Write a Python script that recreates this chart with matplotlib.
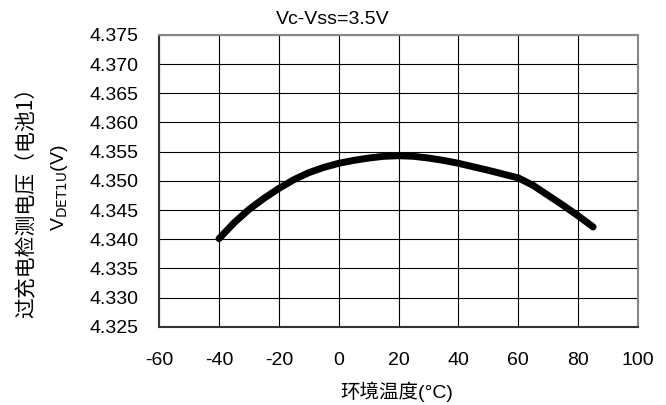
import numpy as np
import matplotlib.pyplot as plt

# readings from the reference curve
temp = [-40, -35, -30, -25, -20, -15, -10, -5, 0, 5, 10, 15, 20, 25, 30, 35,
        40, 50, 60, 65, 70, 75, 80, 85]
vdet = [4.3401, 4.3428, 4.3451, 4.3470, 4.3487, 4.3502, 4.3514, 4.3523,
        4.3530, 4.3535, 4.3539, 4.3542, 4.3543, 4.3542, 4.3539, 4.3535,
        4.3530, 4.3518, 4.3505, 4.3492, 4.3475, 4.3458, 4.3440, 4.3421]

x_ticks = [-60, -40, -20, 0, 20, 40, 60, 80, 100]
y_ticks = [4.325, 4.330, 4.335, 4.340, 4.345, 4.350, 4.355, 4.360, 4.365, 4.370, 4.375]

plt.rcParams['font.family'] = ['Liberation Sans', 'Noto Sans CJK SC', 'DejaVu Sans']
plt.rcParams['axes.unicode_minus'] = False

fig = plt.figure(figsize=(6.66, 4.05), dpi=100)
ax = fig.add_axes([0.239, 0.193, 0.719, 0.721])

ax.plot(temp, vdet, color='black', lw=5, solid_capstyle='round', solid_joinstyle='round', zorder=3)

ax.set_xlim(-60, 100)
ax.set_ylim(4.325, 4.375)
ax.set_xticks(x_ticks)
ax.set_yticks(y_ticks)
ax.set_yticklabels(['%.3f' % v for v in y_ticks])
ax.tick_params(axis='x', length=0, labelsize=14, pad=18)
ax.tick_params(axis='y', length=0, labelsize=14, pad=15)
ax.grid(True, color='black', lw=0.8)
for s in ax.spines.values():
    s.set_color('#888888')
    s.set_linewidth(1.5)
ax.spines['left'].set_color('#333333')
ax.spines['bottom'].set_color('#333333')

fig.text(333 / 666, 1 - 20 / 405, 'Vc-Vss=3.5V', ha='center', va='center', fontsize=14)
fig.text(397 / 666, 1 - 392 / 405, '环境温度(°C)', ha='center', va='center', fontsize=14)
fig.text(27 / 666, 1 - 197 / 405, '过充电检测电压（电池1）', rotation=90, ha='center', va='center',
         fontsize=15, family=['Noto Sans CJK SC', 'DejaVu Sans'])
fig.text(60 / 666, 1 - 188 / 405, 'V$_{\\mathrm{DET1U}}$(V)', rotation=90, ha='center', va='center',
         fontsize=14)

fig.savefig('out.png', dpi=100)
